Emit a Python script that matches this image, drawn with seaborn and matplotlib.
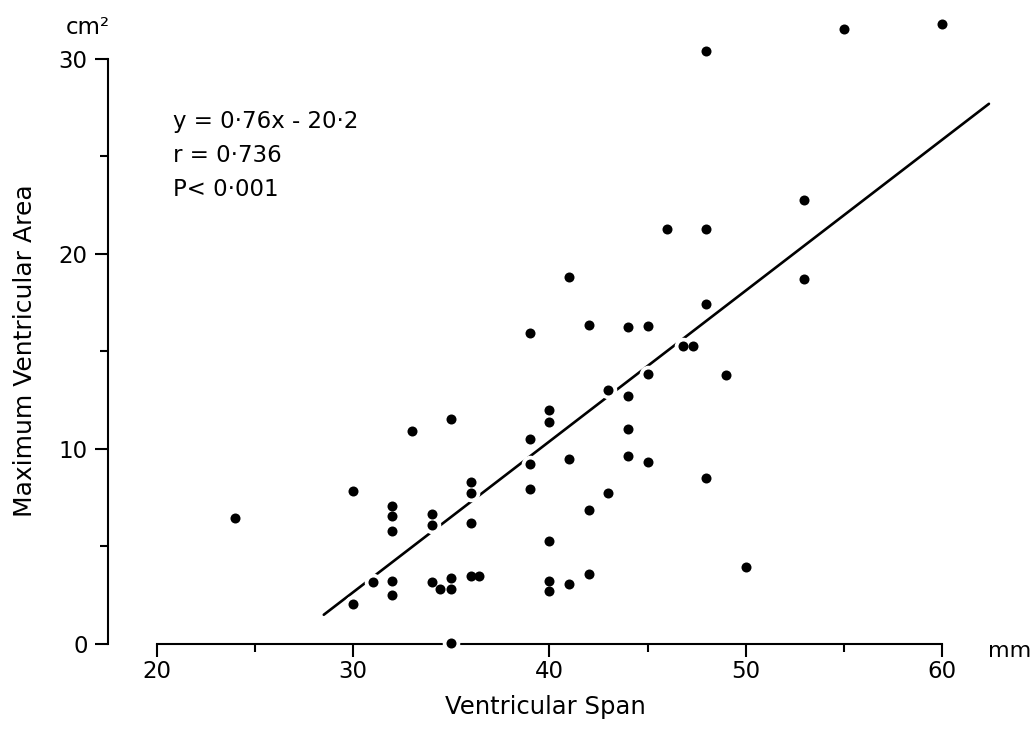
import numpy as np
import pandas as pd
import matplotlib
matplotlib.use('Agg')
import matplotlib.pyplot as plt
import seaborn as sns

# values
span = [24, 30, 30, 31, 32, 32, 32, 32, 32, 33,
        34, 34, 34, 34.4, 35, 35, 35, 35, 36, 36,
        36, 36, 36.4, 39, 39, 39, 39, 40, 40, 40,
        40, 40, 41, 41, 41, 42, 42, 42, 43, 43,
        44, 44, 44, 44, 45, 45, 45, 46, 46.8, 47.3,
        48, 48, 48, 48, 49, 50, 53, 53, 55, 60]
area = [6.45, 7.85, 2.05, 3.2, 7.1, 6.55, 5.8, 3.25, 2.5, 10.9,
        6.65, 6.1, 3.2, 2.8, 11.55, 3.4, 2.8, 0.05, 8.3, 7.75,
        6.2, 3.5, 3.5, 15.95, 10.5, 9.25, 7.95, 12.0, 11.4, 5.3,
        3.25, 2.7, 18.8, 9.5, 3.1, 16.35, 6.85, 3.6, 13.0, 7.75,
        16.25, 12.7, 11.0, 9.65, 16.3, 13.85, 9.35, 21.3, 15.3, 15.3,
        30.4, 21.3, 17.45, 8.5, 13.8, 3.95, 22.75, 18.7, 31.55, 31.8]

# regression line end points as drawn
line_x = [28.5, 62.4]
line_y = [1.5, 27.7]

stats_lines = ['y = 0·76x - 20·2', 'r = 0·736', 'P< 0·001']

data = pd.DataFrame({'span': span, 'area': area})
fit = pd.DataFrame({'x': line_x, 'y': line_y})

sns.set_style('ticks', {'text.color': 'black', 'axes.labelcolor': 'black',
                        'xtick.color': 'black', 'ytick.color': 'black',
                        'axes.edgecolor': 'black'})
plt.rcParams['font.family'] = ['DejaVu Sans']
plt.rcParams['axes.linewidth'] = 1.5

fig = plt.figure(figsize=(10.34, 7.44), dpi=100)
ax = fig.add_axes([0.1044, 0.1344, 0.8634, 0.865])

sns.lineplot(data=fit, x='x', y='y', color='black', linewidth=1.9, ax=ax, zorder=2)
# white halo behind each dot breaks the line like in the print
sns.scatterplot(data=data, x='span', y='area', color='white', s=160, linewidth=0,
                ax=ax, zorder=3, clip_on=False)
sns.scatterplot(data=data, x='span', y='area', color='black', s=52, linewidth=0,
                ax=ax, zorder=4, clip_on=False)

ax.set_xlim(17.5, 63)
ax.set_ylim(0, 33)
ax.set_xticks([20, 30, 40, 50, 60])
ax.set_xticks([25, 35, 45, 55], minor=True)
ax.set_yticks([0, 10, 20, 30])
ax.set_yticks([5, 15, 25], minor=True)

sns.despine(ax=ax)
ax.spines['left'].set_bounds(0, 30)
ax.spines['bottom'].set_bounds(20, 60)

ax.tick_params(which='major', length=9.5, width=1.5, labelsize=16.5, pad=5)
ax.tick_params(which='minor', length=6, width=1.5)
ax.tick_params(axis='x', which='major', pad=2)

ax.set_xlabel('Ventricular Span', fontsize=17.5)
ax.set_ylabel('Maximum Ventricular Area', fontsize=18)
ax.xaxis.set_label_coords(0.49, -0.08)
ax.yaxis.set_label_coords(-0.08, 0.455)

for i, txt in enumerate(stats_lines):
    ax.text(20.8, 26.8 - 1.75 * i, txt, fontsize=16.5, va='center', ha='left')

fig.text(88 / 1034, 1 - 27 / 744, 'cm²', fontsize=16.5, ha='center', va='center')
fig.text(988 / 1034, 1 - 651 / 744, 'mm', fontsize=16, ha='left', va='center')

plt.savefig('out.png', dpi=100)
